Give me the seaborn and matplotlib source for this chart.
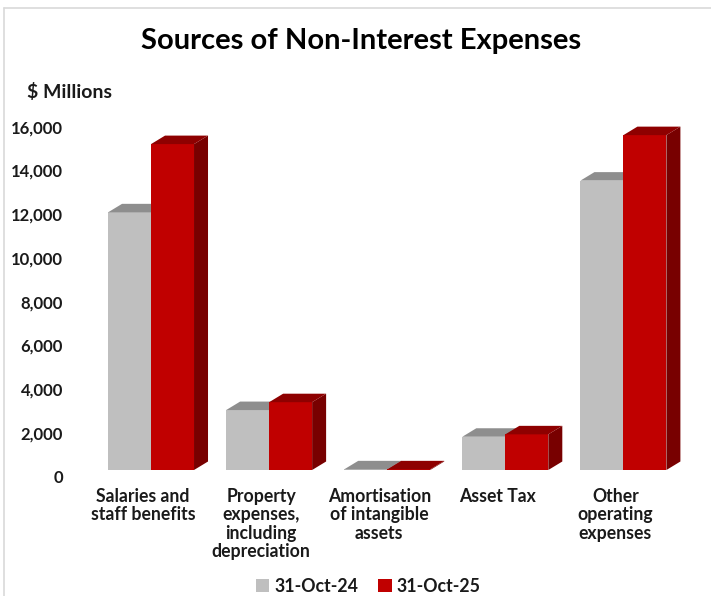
import matplotlib
matplotlib.use("Agg")
import matplotlib.pyplot as plt
import matplotlib.transforms as mtransforms
from matplotlib.patches import Polygon, Patch
from matplotlib.lines import Line2D
import pandas as pd
import seaborn as sns

# Non-interest expense components, $ millions
categories = [
    "Salaries and\nstaff benefits",
    "Property\nexpenses,\nincluding\ndepreciation",
    "Amortisation\nof intangible\nassets",
    "Asset Tax",
    "Other\noperating\nexpenses",
]
periods = ["31-Oct-24", "31-Oct-25"]
values_2024 = [11780, 2740, 30, 1520, 13230]
values_2025 = [14900, 3100, 30, 1630, 15310]
y_ticks = [0, 2000, 4000, 6000, 8000, 10000, 12000, 14000, 16000]

df = pd.DataFrame({
    "category": categories * 2,
    "period": [periods[0]] * len(categories) + [periods[1]] * len(categories),
    "value": values_2024 + values_2025,
})

front_colors = {"31-Oct-24": "#BFBFBF", "31-Oct-25": "#C00000"}
top_colors = {"31-Oct-24": "#8E8E8E", "31-Oct-25": "#8E0000"}
side_colors = {"31-Oct-24": "#7A7A7A", "31-Oct-25": "#780000"}
text_color = "#1A1A1A"

sns.set_theme(style="white")
plt.rcParams["font.family"] = ["Lato", "DejaVu Sans"]
plt.rcParams["font.weight"] = "bold"

DPI = 100
fig = plt.figure(figsize=(7.11, 5.96), dpi=DPI)
fig.patch.set_facecolor("white")

# plot area in figure pixels
ax_left, ax_right = 81, 701
ax_bottom_px, ax_top_px = 470, 109.1
ax = fig.add_axes([ax_left / 711, (596 - ax_bottom_px) / 596,
                   (ax_right - ax_left) / 711, (ax_bottom_px - ax_top_px) / 596])

sns.barplot(data=df, x="category", y="value", hue="period", order=categories,
            hue_order=periods, palette=front_colors, width=0.728, gap=0,
            saturation=1, edgecolor="none", linewidth=0, ax=ax, legend=False,
            zorder=2)

ax.set_xlim(-0.593, 4.657)
ax.set_ylim(0, 16500)
ax.set_xlabel("")
ax.set_ylabel("")
for s in ax.spines.values():
    s.set_visible(False)
ax.set_facecolor("none")

# depth of the extruded columns, in pixels
depth_dx, depth_dy = 14, 8.5
to_disp = ax.transData
to_data = ax.transData.inverted()

z = 3
for period, container in zip(periods, ax.containers):
    for bar in container:
        x0 = bar.get_x()
        x1 = x0 + bar.get_width()
        h = bar.get_height()
        (fx0, fy0), (fx1, fyh) = to_disp.transform([(x0, 0), (x1, h)])
        top = [(fx0, fyh), (fx1, fyh), (fx1 + depth_dx, fyh + depth_dy),
               (fx0 + depth_dx, fyh + depth_dy)]
        side = [(fx1, fy0), (fx1, fyh), (fx1 + depth_dx, fyh + depth_dy),
                (fx1 + depth_dx, fy0 + depth_dy)]
        bar.set_zorder(z)
        ax.add_patch(Polygon(to_data.transform(side), closed=True,
                             facecolor=side_colors[period], edgecolor="none",
                             zorder=z, clip_on=False))
        ax.add_patch(Polygon(to_data.transform(top), closed=True,
                             facecolor=top_colors[period], edgecolor="none",
                             zorder=z, clip_on=False))
    z += 1

ax.set_yticks(y_ticks)
ax.set_yticklabels([f"{t:,}" for t in y_ticks])
ax.tick_params(axis="y", length=0, pad=13, labelsize=12, labelcolor=text_color)
ax.tick_params(axis="x", length=0, pad=13, labelsize=12.7, labelcolor=text_color)

y_shift = mtransforms.ScaledTranslation(0, -6.7 / DPI, fig.dpi_scale_trans)
for lab in ax.get_yticklabels():
    lab.set_fontweight("bold")
    lab.set_transform(lab.get_transform() + y_shift)
x_shift = mtransforms.ScaledTranslation(-8 / DPI, 0, fig.dpi_scale_trans)
for lab in ax.get_xticklabels():
    lab.set_fontweight("bold")
    lab.set_linespacing(1.1)
    lab.set_transform(lab.get_transform() + x_shift)

fig.text(0.508, 1 - 41 / 596, "Sources of Non-Interest Expenses", ha="center",
         va="center", fontsize=21, fontweight="bold", color="black")
fig.text(27 / 711, 1 - 92 / 596, "$ Millions", ha="left", va="center",
         fontsize=14, fontweight="bold", color=text_color)

handles = [Patch(facecolor=front_colors[p], edgecolor="none", label=p) for p in periods]
fig.legend(handles=handles, loc="center", bbox_to_anchor=(368.5 / 711, 10 / 596),
           ncol=2, frameon=False, handlelength=0.75, handleheight=0.75,
           handletextpad=0.3, columnspacing=1.1, labelcolor=text_color,
           prop={"weight": "bold", "size": 12.8})

# outer chart frame
frame_color = "#D9D9D9"
fig.add_artist(Line2D([4 / 711, 4 / 711], [0, 1 - 8 / 596], transform=fig.transFigure,
                      color=frame_color, linewidth=1.2))
fig.add_artist(Line2D([4 / 711, 1], [1 - 8 / 596, 1 - 8 / 596], transform=fig.transFigure,
                      color=frame_color, linewidth=1.2))

fig.savefig("out.png", dpi=DPI, facecolor="white")
